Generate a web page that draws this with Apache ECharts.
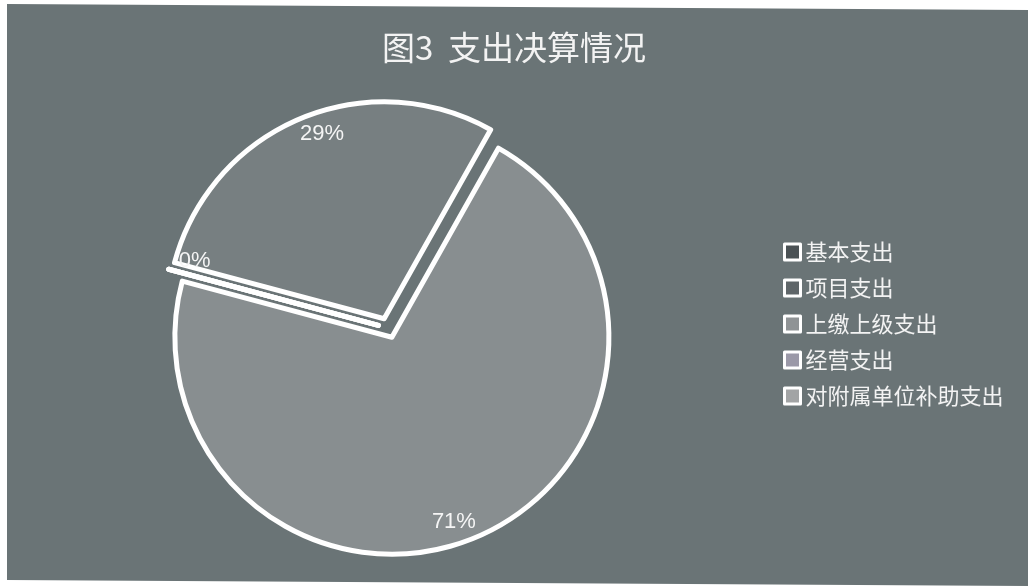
<!DOCTYPE html>
<html>
<head>
<meta charset="utf-8">
<script src="https://cdn.jsdelivr.net/npm/echarts@6/dist/echarts.min.js"></script>
<style>
html,body{margin:0;padding:0;background:#ffffff;}
#chart{width:1028px;height:586px;}
</style>
</head>
<body>
<div id="chart"></div>
<script>
// ---- data ----
var titleText = '图3  支出决算情况';
var categories = ['基本支出', '项目支出', '上缴上级支出', '经营支出', '对附属单位补助支出'];
var values = [29, 71, 0, 0, 0];
var sliceColors = ['#777f81', '#888e90', '#9a9ea0', '#a09fab', '#a3a5a6'];
var legendIconColors = ['#4b5255', '#5f6669', '#8f9395', '#9b99a8', '#a2a4a5'];

var chart = echarts.init(document.getElementById('chart'), null, {renderer: 'canvas'});

var pieData = categories.map(function (name, i) {
  return {name: name, value: values[i], selected: true, itemStyle: {color: sliceColors[i]}};
});
var labelData = categories.map(function (name, i) {
  return {name: name, value: values[i], selected: true};
});
var legendData = categories.map(function (name, i) {
  return {name: name, itemStyle: {color: legendIconColors[i], borderColor: '#ffffff', borderWidth: 3}};
});

var option = {
  backgroundColor: '#ffffff',
  animation: false,
  graphic: [{
    type: 'polygon',
    silent: true,
    z: -10,
    shape: {points: [[7, 4], [1028, 10], [1028, 586], [7, 580]]},
    style: {fill: '#6a7476'}
  }],
  title: {
    text: titleText,
    left: 'center',
    top: 26,
    textStyle: {
      color: '#f3f3f3',
      fontSize: 33,
      fontWeight: 'normal',
      fontFamily: 'Noto Sans CJK SC'
    }
  },
  legend: {
    orient: 'vertical',
    left: 778,
    top: 235,
    itemWidth: 16,
    itemHeight: 16,
    itemGap: 12,
    icon: 'rect',
    selectedMode: false,
    data: legendData,
    textStyle: {
      color: '#f3f3f3',
      fontSize: 22,
      lineHeight: 24,
      fontFamily: 'Noto Sans CJK SC'
    }
  },
  series: [{
    type: 'pie',
    center: [388, 328],
    radius: [0, 217],
    startAngle: 165,
    clockwise: true,
    selectedMode: 'multiple',
    selectedOffset: 10,
    avoidLabelOverlap: false,
    stillShowZeroSum: true,
    minAngle: 0,
    silent: true,
    itemStyle: {borderColor: '#ffffff', borderWidth: 5},
    label: {show: false},
    labelLine: {show: false},
    emphasis: {disabled: true},
    data: pieData
  }, {
    type: 'pie',
    center: [388, 328],
    radius: [166, 217],
    startAngle: 161,
    clockwise: true,
    selectedMode: 'multiple',
    selectedOffset: 10,
    avoidLabelOverlap: false,
    legendHoverLink: false,
    silent: true,
    itemStyle: {color: 'rgba(0,0,0,0)', borderWidth: 0},
    label: {
      show: true,
      position: 'inside',
      color: '#f5f5f5',
      fontSize: 22,
      fontFamily: 'Liberation Sans',
      formatter: function (p) { return Math.round(p.percent) + '%'; }
    },
    labelLine: {show: false},
    emphasis: {disabled: true},
    z: 3,
    data: labelData
  }]
};
chart.setOption(option);
</script>
</body>
</html>
